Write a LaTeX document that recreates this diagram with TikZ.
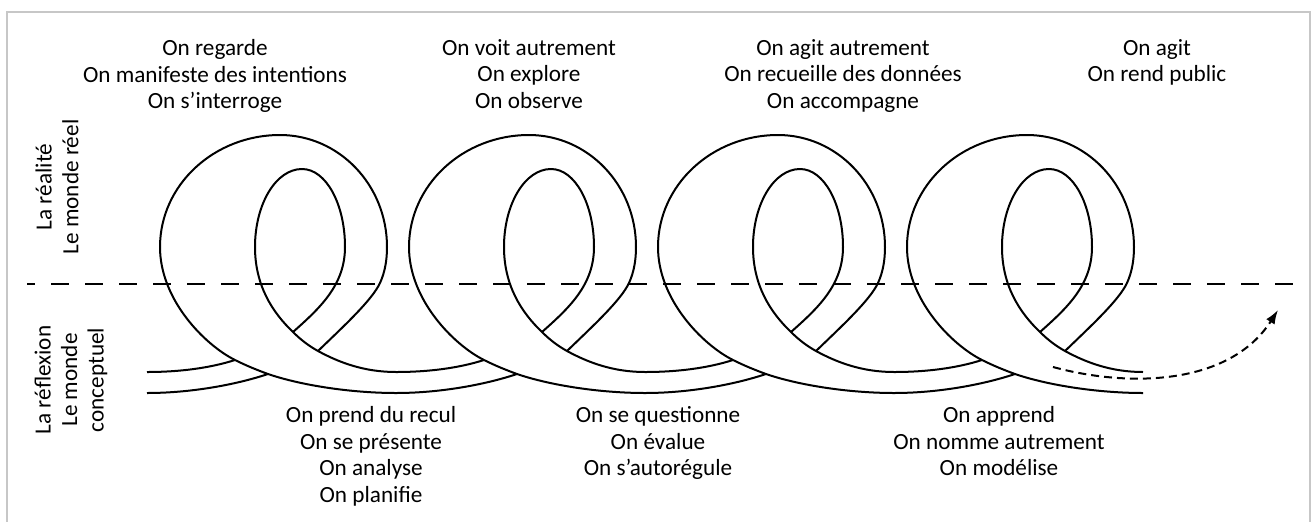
\documentclass[tikz,border=0pt]{standalone}
\usepackage{fontspec}
\setmainfont{Carlito}
\usepackage{tikz}
\usetikzlibrary{arrows.meta}
\tikzstyle{ribbon} = [line width=1pt, black]
\tikzstyle{midline} = [line width=1.2pt, dash pattern=on 9pt off 8pt, dash phase=5pt]
\tikzstyle{nextarrow} = [line width=1pt, dash pattern=on 4pt off 2.5pt, -{Latex[length=7pt,width=5pt]}]
\tikzstyle{doing} = [align=center, inner sep=0pt, anchor=north, font=\fontsize{11.6}{13.3}\selectfont]
\tikzstyle{sidelabel} = [align=center, inner sep=0pt, rotate=90, font=\fontsize{11.6}{13.3}\selectfont]

\begin{document}
\begin{tikzpicture}[x=0.5pt, y=-0.5pt]
        \clip (0,0) rectangle (1314,521);
        % frame
        \draw[black!22, line width=1.4pt] (7,12) rectangle (1310,540);
        % limit between real and conceptual
        \coordinate (lineL) at (27,284);
        \coordinate (lineR) at (1293,284);
        \draw[midline] (lineL) -- (lineR);
        % the four loops
        \foreach \d in {0,249,498,747} {
            \begin{scope}[shift={(\d,0)}]
            % strands coming in from the left
            \draw[ribbon] (147,393) .. controls (190,393) and (235,385) .. (268,374);
            \draw[ribbon] (147,372) .. controls (180,372) and (210,368) .. (235,360);
            % outer loop
            \draw[ribbon] (318,351) .. controls (345,325) and (372,300) .. (380,283)
                .. controls (385,272) and (387,260) .. (387,247)
                .. controls (387,185) and (339,135) .. (280,135)
                .. controls (214,135) and (160,185) .. (160,247)
                .. controls (160,300) and (205,345) .. (235,360)
                .. controls (246,365.5) and (257,370) .. (268,374)
                .. controls (300,385) and (350,393) .. (396,393);
            % inner loop
            \draw[ribbon] (293,332) .. controls (320,308) and (345,285) .. (345,247)
                .. controls (345,204) and (326,169) .. (302,169)
                .. controls (276,169) and (255,204) .. (255,247)
                .. controls (255,285) and (272,312) .. (293,332)
                .. controls (301,340) and (309,346) .. (318,351)
                .. controls (340,363) and (365,372) .. (396,372);
            \end{scope}
        }
        % arrow out of the last loop
        \coordinate (arrowstart) at (1053,367);
        \coordinate (arrowend) at (1278,310);
        \draw[nextarrow] (arrowstart) .. controls (1130,388) and (1230,385) .. (arrowend);
        % real world
        \node[doing] (regarde) at (215,39) {On regarde\\On manifeste des intentions\\On s’interroge};
        \node[doing] (voit) at (529,39) {On voit autrement\\On explore\\On observe};
        \node[doing] (agitautr) at (843,39) {On agit autrement\\On recueille des données\\On accompagne};
        \node[doing] (agit) at (1157,39) {On agit\\On rend public};
        % conceptual world
        \node[doing] (recul) at (371,406) {On prend du recul\\On se présente\\On analyse\\On planifie};
        \node[doing] (question) at (658,406) {On se questionne\\On évalue\\On s’autorégule};
        \node[doing] (apprend) at (999,406) {On apprend\\On nomme autrement\\On modélise};
        % side labels
        \node[sidelabel] (reel) at (57,187) {La réalité\\Le monde réel};
        \node[sidelabel] (conceptuel) at (71,380) {La réflexion\\Le monde\\conceptuel};
\end{tikzpicture}
\end{document}
